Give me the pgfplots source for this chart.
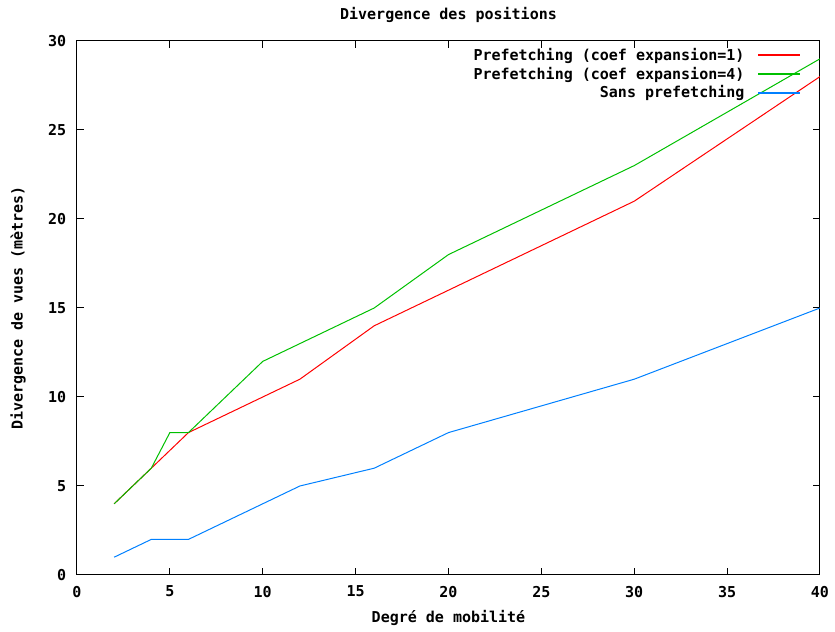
\documentclass[border=0pt]{standalone}
\usepackage{fontspec}
\setmainfont{DejaVu Sans Mono}
\setmonofont{DejaVu Sans Mono}
\usepackage{pgfplots}
\pgfplotsset{compat=1.18}
\definecolor{gpred}{RGB}{255,0,0}
\definecolor{gpgreen}{RGB}{0,192,0}
\definecolor{gpblue}{RGB}{0,128,255}

\begin{document}
\begin{tikzpicture}
\begin{axis}[
  scale only axis,
  width=445.8pt, height=320.4pt,
  xmin=0, xmax=40, ymin=0, ymax=30,
  xtick={0,5,...,40}, ytick={0,5,...,30},
  tick align=inside,
  major tick length=4pt,
  tick style={black, line width=0.6pt},
  axis line style={black, line width=0.6pt},
  /pgf/number format/assume math mode=true,
  font=\fontsize{9}{10}\selectfont\bfseries,
  tick label style={font=\fontsize{9}{10}\selectfont\bfseries},
  every axis title shift=0pt,
  title={Divergence des positions},
  title style={at={(0.5,1)}, anchor=center, yshift=15.6pt},
  xlabel={Degré de mobilité},
  ylabel={Divergence de vues (mètres)},
  xlabel style={at={(0.5,0)}, anchor=center, yshift=-25.8pt},
  ylabel style={at={(0,0.5)}, anchor=center, rotate=0, yshift=35.4pt},
  xticklabel style={yshift=-3pt},
  yticklabel style={xshift=-3pt},
  legend style={draw=none, fill=none, at={(0.982,1.0)}, anchor=north east,
    font=\fontsize{9}{10.5}\selectfont\bfseries, row sep=-1.5pt,
    /tikz/every odd column/.append style={column sep=0.2cm}},
  legend cell align=right,
  legend plot pos=right,
  legend image code/.code={\draw[#1, line width=1.1pt] plot coordinates {(0cm,0cm) (0.89cm,0cm)};},
]
\addplot[color=gpred, line width=0.6pt] coordinates {
  (2,4) (4,6) (6,8) (10,10) (12,11) (16,14) (20,16) (30,21) (40,28)
};
\addlegendentry{Prefetching (coef expansion=1)}
\addplot[color=gpgreen, line width=0.6pt] coordinates {
  (2,4) (4,6) (5,8) (6,8) (10,12) (12,13) (16,15) (20,18) (30,23) (40,29)
};
\addlegendentry{Prefetching (coef expansion=4)}
\addplot[color=gpblue, line width=0.6pt] coordinates {
  (2,1) (4,2) (6,2) (10,4) (12,5) (16,6) (20,8) (30,11) (40,15)
};
\addlegendentry{Sans prefetching}
\end{axis}
\pgfresetboundingbox
\path (current axis.south west) ++(-46.2pt,-34.2pt) rectangle ++(501pt,379.2pt);
\end{tikzpicture}
\end{document}
